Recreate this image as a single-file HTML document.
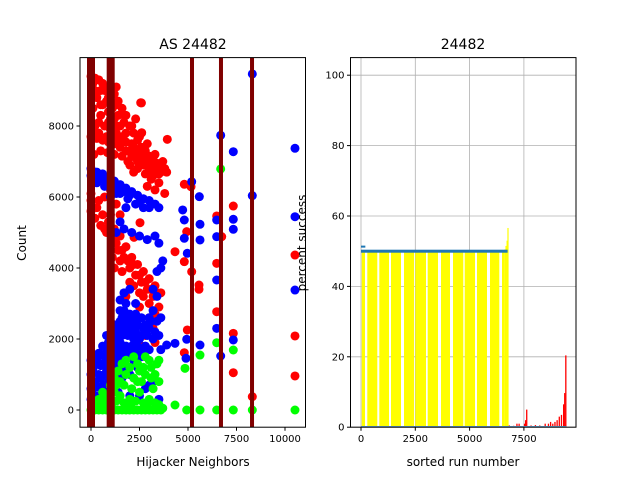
<!DOCTYPE html>
<html><head><meta charset="utf-8"><style>
body{margin:0;background:#fff}
svg{display:block;font-family:"DejaVu Sans","Liberation Sans",sans-serif}
</style></head><body>
<svg id="c" width="640" height="480" viewBox="0 0 640 480" xmlns="http://www.w3.org/2000/svg"></svg>
<script>
// ---------- data ----------
const redPts=[[0,9400],[200,9350],[400,9300],[600,9200],[800,9100],[1000,9000],[1200,8900],[1400,8700],[1600,8500],[1800,8300],[2000,8000],[2200,7800],[2400,7600],[2600,7400],[2800,7300],[3000,7150],[3200,7050],[3400,6950],[3600,6900],[3800,6800],
[300,8800],[600,8600],[900,8400],[1200,8200],[1500,8000],[1800,7800],[2100,7500],[2400,7300],[2700,7100],[3000,6950],[3300,6800],[3600,6700],
[0,7700],[300,7650],[600,7600],[900,7550],[1200,7500],[1500,7400],[1800,7300],[2100,7150],[2400,7000],[2700,6900],[3000,6800],
[400,8100],[700,8000],[1000,7900],[1300,7800],[1600,7700],[800,8700],[1100,8500],[1400,8300],[500,8300],[200,8000],[200,9000],[700,9000],[1300,9100],[1000,8200],[1700,8100],[2300,8200],[2600,8650],[2600,7800],[1900,7000],[2200,6700],[3100,6500],[3500,6400],[3300,6200],[3800,6100],
[100,9200],[500,9000],[900,8800],[1300,8600],[1700,8300],[2100,8000],[2500,7700],[2900,7500],[3300,7200],[3700,7000],[100,8500],[500,8600],[900,8100],[1300,8000],[1700,7600],[2000,7300],[2300,7100],[2600,7050],[3200,6900],[3500,6650],[3900,6700],[100,7900],[400,7800],[800,7700],[1100,7700],[1400,7600],[1800,7550],[2200,7400],[2500,7200],[2900,7000],[3400,6850],[150,7200],[500,7300],[850,7250],[1200,7200],[1600,7150],[2000,6900],[2400,6800],[2800,6650],[3200,6600],[2900,6300],
[0,6100],[0,5900],[0,5600],[300,5700],[600,5500],[900,5300],[1200,5100],[1500,4900],[1800,4600],[2100,4300],[2400,4100],[2700,3900],[3000,3700],[3300,3500],[3600,3300],[500,5200],[800,5000],[1100,4800],[1400,4500],[1700,4300],[2000,4000],[2300,3800],[2600,3600],[2900,3400],[3200,3200],[1500,4200],[2000,3600],[2500,3300],[3000,3000],[3500,2900],[1200,4000],[1800,3200],[2500,2900],[3000,2600],[3200,2300],[2800,2100],[2600,1800],[3300,1900],[1000,6200],[700,6000],[1300,5800],[1500,5500],
[200,5400],[400,5900],[700,5100],[1000,5500],[1300,4700],[1600,4500],[1900,4200],[2200,4100],[2500,3800],[2800,3600],[3100,3400],[3400,3300],[1100,4300],[1600,3900],[2200,3500],[2700,3200],[3300,2700],
[8315,375],[10515,4366],[10515,2085],[10515,958],[7335,5746],[7335,2160],[7335,1051],[6479,5465],[6737,4883],[6479,4132],[6479,2769],[4809,6358],[5155,6290],[4933,5023],[4809,4178],[5190,3896],[5567,3521],[5567,3400],[4330,4459],[4964,2254],[4809,1614],[3933,7625],[2562,8656],[2613,7811],[2526,5276],[2216,4864]];
const bluePts=[[0,6800],[0,6600],[300,6700],[600,6650],[900,6550],[1200,6450],[1500,6350],[1800,6250],[2100,6150],[2400,6050],[2700,5950],[3000,5900],[3300,5800],[3500,5700],[300,6400],[700,6300],[1100,6200],[1500,6100],[1900,5950],[2300,5800],[2700,5700],[1300,5000],[1700,5100],[2100,5000],[2500,4900],[2900,4800],[3300,4900],[3500,4700],[1500,5300],[3700,4200],[3600,4000],[3400,3900],[3200,3400],[3400,3200],[3200,2800],[3600,2600],
[150,6550],[450,6500],[750,6450],[1050,6350],[1350,6250],[1650,6150],[2000,6050],[2500,5850],[1000,6000],[1300,6100],[1800,5700],[3000,5700],
[0,600],[0,300],[0,1000],[0,1400],[200,200],[200,800],[200,1300],[400,400],[400,1000],[400,1600],[600,200],[600,700],[600,1300],[600,1800],[800,500],[800,1100],[800,1700],[800,2100],[1000,300],[1000,900],[1000,1500],[1000,2100],[1200,700],[1200,1300],[1200,1900],[1200,2400],[1400,500],[1400,1100],[1400,1700],[1400,2300],[1600,900],[1600,1500],[1600,2100],[1600,2600],[1800,1200],[1800,1800],[1800,2400],[1800,3000],[2000,1000],[2000,1600],[2000,2200],[2000,2700],[2200,1400],[2200,2000],[2200,2500],[2400,1200],[2400,1800],[2400,2400],[2600,1500],[2600,2100],[2600,2600],[2800,1800],[2800,2400],[3000,1700],[3000,2300],[3000,2600],[3200,2000],[3400,2500],[1500,3100],[1700,3300],[2300,3000],[2000,3400],[1500,2800],[3500,2100],[3600,1700],[2000,400],[2500,400],[3000,700],[3500,300],[3200,800],[2800,600],
[100,450],[100,1150],[300,650],[300,1450],[500,900],[500,1250],[700,1000],[700,1500],[900,800],[900,1300],[900,1900],[1100,1100],[1100,1700],[1100,2300],[1300,900],[1300,1500],[1300,2100],[1500,1300],[1500,1900],[1500,2500],[1700,1100],[1700,1700],[1700,2300],[1700,2800],[1900,1500],[1900,2100],[1900,2600],[2100,1800],[2100,2400],[2300,1600],[2300,2200],[2300,2700],[2500,2000],[2500,2600],[2700,1700],[2700,2300],[2900,2100],[3100,2500],[3300,2200],
[8315,9465],[6685,7738],[7335,7276],[10515,7372],[8315,6037],[10515,5445],[7335,5372],[7335,5090],[10515,3380],[4726,5634],[5190,6431],[5584,6009],[4809,5352],[5619,5231],[4809,4837],[5619,4789],[4964,4414],[6479,5352],[6479,4883],[6479,3662],[6479,2301],[6685,1521],[7335,1972],[4933,1992],[4897,1456],[5619,1831],[3902,1831],[4330,1878]];
const greenPts=[[0,0],[200,0],[400,0],[600,0],[800,0],[1000,0],[1200,0],[1400,0],[1600,0],[1800,0],[2000,0],[2200,0],[2400,0],[2600,0],[2800,0],[3000,0],[3200,0],[3400,0],[3600,0],[3700,50],
[200,200],[400,300],[600,500],[800,400],[1000,700],[1200,900],[1400,1100],[1500,800],[1600,1300],[1800,1000],[1800,1400],[2000,1200],[2200,1500],[2400,1300],[2500,1100],[2700,1200],[2800,1500],[3000,1400],[3100,1200],[3300,1000],[3400,1300],[3500,1400],[1000,300],[1500,400],[2000,300],[2500,500],[3000,300],[1200,500],[2600,800],[3200,600],[2200,900],[3500,800],
[100,100],[300,150],[500,150],[700,200],[900,150],[1100,200],[1300,250],[1700,200],[1900,150],[2100,200],[2300,250],[2700,200],[2900,150],[3300,200],[3500,150],[1300,700],[1700,700],[2100,600],[2400,800],[2800,1000],[3100,900],
[6685,6789],[10515,0],[7335,0],[8315,0],[6479,0],[5619,0],[4933,0],[4330,141],[7335,1690],[5619,1549],[4845,1174],[6479,1896]];
const vlineX=[0,1015,5206,6700,8300];
const vlineW=[8,8,4,4,4];
const leftXTicks=[0,2500,5000,7500,10000];
const leftYTicks=[0,2000,4000,6000,8000];
const yellowStart=[32,290,843,1381,1980,2500,3071,3683,4236,4774,5341,5939,6492];
const yellowEnd=[184,750,1289,1842,2440,2993,3545,4098,4710,5249,5801,6367,6600];
const yellowH=50;
const spikeX=[6600,6650,6700,6740];
const spikeH=[50.5,51.5,53,56.6];
const redBarX=[6800,7000,7150,7250,7500,7550,7600,7800,8000,8200,8450,8600,8700,8800,8900,9000,9100,9200,9300,9350,9400];
const redBarH=[0.5,0.4,1,1,1,2,5,0.5,0.6,0.5,1,1,1.5,1,1.5,2,3,3.5,6.5,9.7,20.4];
const blueLineEnd=6750, blueLineY=50;
const rightXTicks=[0,2500,5000,7500];
const rightYTicks=[0,20,40,60,80,100];

// ---------- scales ----------
const L={x0:80,x1:305.5,y0:57.6,y1:427.2};
const R={x0:350.5,x1:576,y0:57.6,y1:427.2};
const lx=v=>91+v*0.0194, ly=v=>410-v*0.0355;
const rx=v=>361+v*0.02172, ry=v=>427.2-v*3.52;
const svg=document.getElementById('c');
const NS='http://www.w3.org/2000/svg';
function mk(tag,attrs,parent){const e=document.createElementNS(NS,tag);for(const k in attrs)e.setAttribute(k,attrs[k]);(parent||svg).appendChild(e);return e;}

const defs=mk('defs',{});
const cp=mk('clipPath',{id:'cl'},defs);mk('rect',{x:L.x0,y:L.y0,width:L.x1-L.x0,height:L.y1-L.y0},cp);
const cp2=mk('clipPath',{id:'cr'},defs);mk('rect',{x:R.x0,y:R.y0,width:R.x1-R.x0,height:R.y1-R.y0},cp2);

// ---- left plot ----
const gl=mk('g',{'clip-path':'url(#cl)'});


[[redPts,'#ff0000','red-point'],[bluePts,'#0000ff','blue-point'],[greenPts,'#00ff00','green-point']].forEach(([arr,col,nm])=>{
  arr.forEach(p=>{const c=mk('circle',{cx:lx(p[0]),cy:ly(p[1]),r:4.5,fill:col},gl);
    
    });
});
vlineX.forEach((v,i)=>{const r=mk('rect',{x:lx(v)-vlineW[i]/2,y:L.y0,width:vlineW[i],height:L.y1-L.y0,fill:'#800000'},gl);
  
  });
const fl=mk('rect',{x:L.x0,y:L.y0,width:L.x1-L.x0,height:L.y1-L.y0,fill:'none',stroke:'#000','stroke-width':1});


leftXTicks.forEach(t=>{const x=lx(t);mk('line',{x1:x,x2:x,y1:L.y1,y2:L.y1+3.5,stroke:'#000'});
  const tx=mk('text',{x:x,y:L.y1+15,'font-size':10,'text-anchor':'middle'});tx.textContent=t;
  
  });
leftYTicks.forEach(t=>{const y=ly(t);mk('line',{x1:L.x0-3.5,x2:L.x0,y1:y,y2:y,stroke:'#000'});
  const tx=mk('text',{x:L.x0-6,y:y+3.5,'font-size':10,'text-anchor':'end'});tx.textContent=t;
  
  });

// ---- right plot ----
const gr=mk('g',{'clip-path':'url(#cr)'});


rightXTicks.forEach(t=>mk('line',{x1:rx(t),x2:rx(t),y1:R.y0,y2:R.y1,stroke:'#b0b0b0','stroke-width':0.8},gr));
rightYTicks.forEach(t=>mk('line',{x1:R.x0,x2:R.x1,y1:ry(t),y2:ry(t),stroke:'#b0b0b0','stroke-width':0.8},gr));
yellowStart.forEach((s,i)=>{const r=mk('rect',{x:rx(s),y:ry(yellowH),width:rx(yellowEnd[i])-rx(s),height:ry(0)-ry(yellowH),fill:'#ffff00'},gr);
  
  });
spikeX.forEach((s,i)=>{const r=mk('rect',{x:rx(s),y:ry(spikeH[i]),width:1.2,height:ry(0)-ry(spikeH[i]),fill:'#ffff00'},gr);
  
  });
redBarX.forEach((s,i)=>{const r=mk('rect',{x:rx(s),y:ry(redBarH[i]),width:1.3,height:ry(0)-ry(redBarH[i]),fill:'#ff0000'},gr);
  
  });
const bl=mk('rect',{x:rx(0),y:ry(blueLineY)-1.5,width:rx(blueLineEnd)-rx(0),height:3,fill:'#1f77b4'},gr);


const bl2=mk('rect',{x:rx(0),y:ry(51.3)-1,width:rx(200)-rx(0),height:2,fill:'#1f77b4'},gr);


const bl3=mk('rect',{x:rx(0),y:ry(0)-1.2,width:rx(9450)-rx(0),height:1.2,fill:'#5fa0d0'},gr);


const fr=mk('rect',{x:R.x0,y:R.y0,width:R.x1-R.x0,height:R.y1-R.y0,fill:'none',stroke:'#000','stroke-width':1});


rightXTicks.forEach(t=>{const x=rx(t);mk('line',{x1:x,x2:x,y1:R.y1,y2:R.y1+3.5,stroke:'#000'});
  const tx=mk('text',{x:x,y:R.y1+15,'font-size':10,'text-anchor':'middle'});tx.textContent=t;
  
  });
rightYTicks.forEach(t=>{const y=ry(t);mk('line',{x1:R.x0-3.5,x2:R.x0,y1:y,y2:y,stroke:'#000'});
  const tx=mk('text',{x:R.x0-6,y:y+3.5,'font-size':10,'text-anchor':'end'});tx.textContent=t;
  
  });
</script>
<div style="position:absolute;left:0;top:0;width:640px;height:480px;pointer-events:none">
<svg width="640" height="480" style="font-family:'DejaVu Sans','Liberation Sans',sans-serif">
<text x="193" y="49" font-size="14" text-anchor="middle">AS 24482</text>
<text x="463" y="49" font-size="14" text-anchor="middle">24482</text>
<text x="193" y="466" font-size="12" text-anchor="middle">Hijacker Neighbors</text>
<text x="463" y="466" font-size="12" text-anchor="middle">sorted run number</text>
<text x="0" y="0" font-size="12" text-anchor="middle" transform="translate(26,243) rotate(-90)">Count</text>
<text x="0" y="0" font-size="12" text-anchor="middle" transform="translate(306,243) rotate(-90)">percent success</text>
</svg></div>
</body></html>
